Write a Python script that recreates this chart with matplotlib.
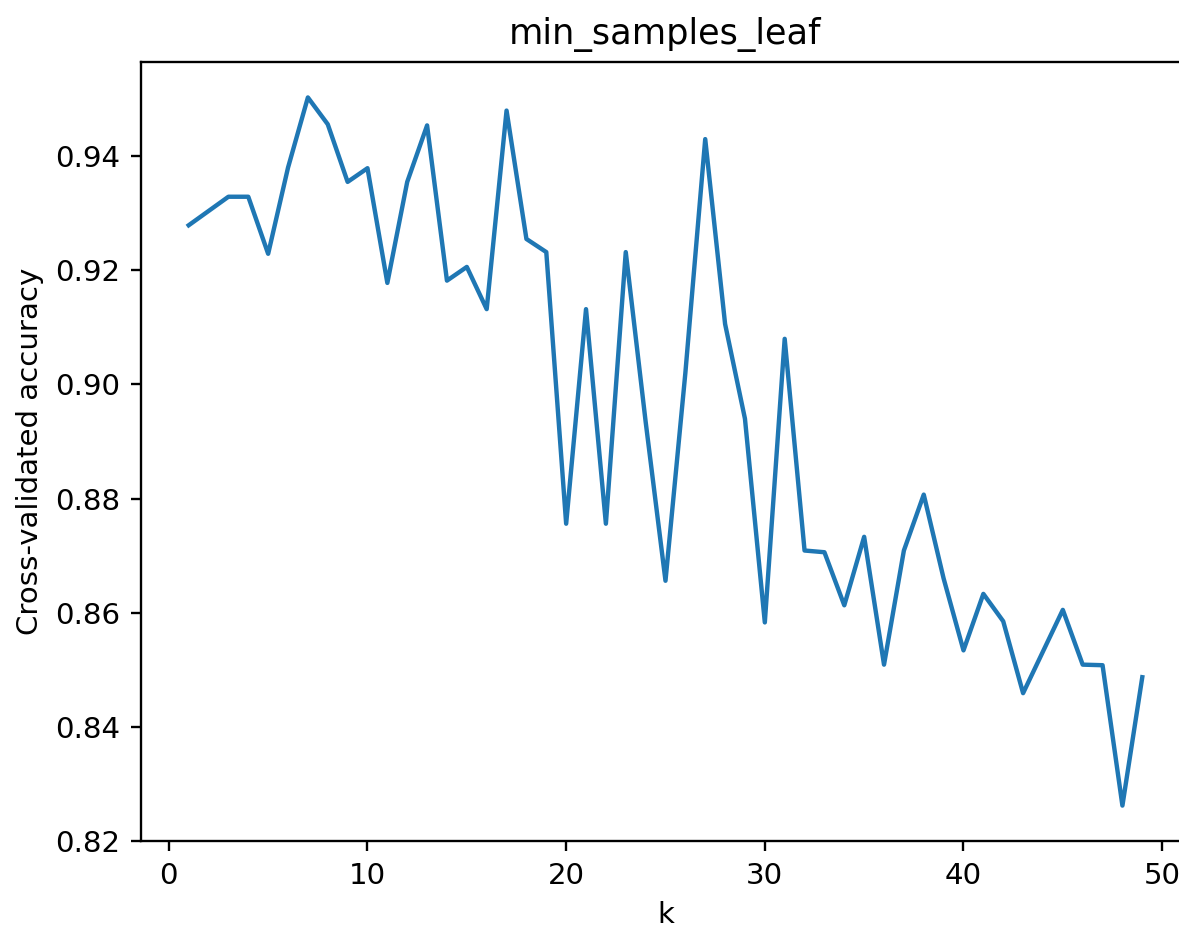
import numpy as np
import matplotlib
matplotlib.use("Agg")
import matplotlib.pyplot as plt

# Cross-validated accuracy for min_samples_leaf = 1..49
k_values = list(range(1, 50))
cv_scores = [
    0.9279, 0.9304, 0.9329, 0.9329, 0.9229, 0.9380, 0.9503, 0.9456, 0.9355, 0.9379,
    0.9178, 0.9355, 0.9454, 0.9182, 0.9206, 0.9132, 0.9480, 0.9255, 0.9232, 0.8756,
    0.9132, 0.8756, 0.9232, 0.8935, 0.8656, 0.9020, 0.9430, 0.9106, 0.8940, 0.8583,
    0.9080, 0.8709, 0.8706, 0.8613, 0.8733, 0.8509, 0.8709, 0.8807, 0.8660, 0.8534,
    0.8633, 0.8585, 0.8459, 0.8532, 0.8605, 0.8509, 0.8508, 0.8262, 0.8487,
]

dpi = 211
fig = plt.figure(figsize=(1179 / dpi, 926 / dpi), dpi=dpi)
ax = fig.add_axes([0.1196, 0.0918, 0.8897, 0.8412])

ax.plot(k_values, cv_scores)
ax.set_xlabel("k")
ax.set_ylabel("Cross-validated accuracy")
ax.set_title("min_samples_leaf")
ax.set_xticks([0, 10, 20, 30, 40, 50])

fig.savefig("out.png", dpi=dpi)
